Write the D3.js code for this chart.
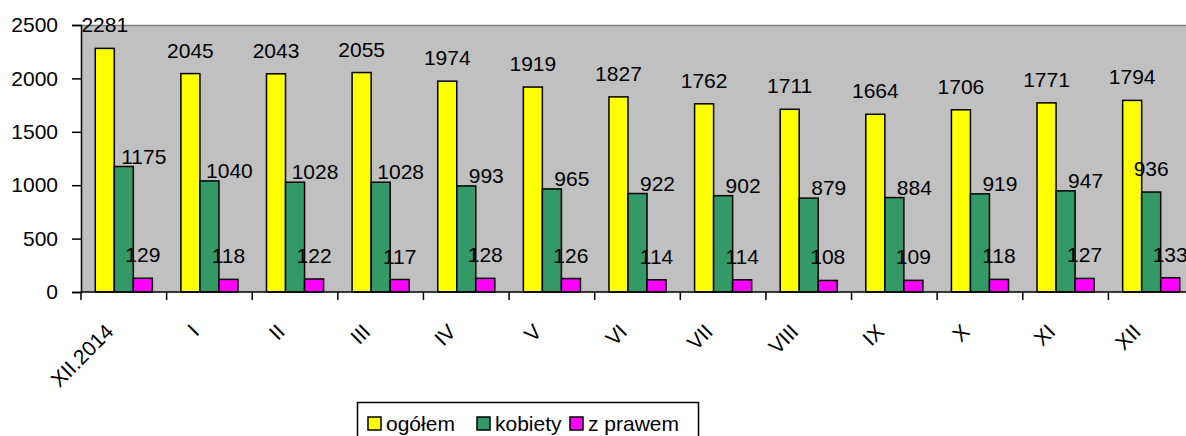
<!DOCTYPE html>
<html>
<head>
<meta charset="utf-8">
<script src="https://cdn.jsdelivr.net/npm/d3@7"></script>
<style>
  body { margin: 0; background: #fff; }
  svg { display: block; font-family: "Liberation Sans", Arial, sans-serif; }
</style>
</head>
<body>
<svg width="1186" height="436"></svg>
<script>
// data
const months = ["XII.2014", "I", "II", "III", "IV", "V", "VI", "VII", "VIII", "IX", "X", "XI", "XII"];
const ogolem = [2281, 2045, 2043, 2055, 1974, 1919, 1827, 1762, 1711, 1664, 1706, 1771, 1794];
const kobiety = [1175, 1040, 1028, 1028, 993, 965, 922, 902, 879, 884, 919, 947, 936];
const zPrawem = [129, 118, 122, 117, 128, 126, 114, 114, 108, 109, 118, 127, 133];
const seriesNames = ["ogółem", "kobiety", "z prawem"];
const yTicks = [0, 500, 1000, 1500, 2000, 2500];

const colors = ["#ffff00", "#339966", "#ff00ff"];
const seriesValues = [ogolem, kobiety, zPrawem];

const svg = d3.select("svg");
const width = 1186;
const plotLeft = 81, plotRight = 1194, plotTop = 25, plotBottom = 292;
const fontSize = 21;

// scales
const x = d3.scaleBand()
    .domain(months)
    .range([plotLeft, plotRight]);

const x1 = d3.scaleBand()
    .domain(seriesNames)
    .range([0, x.bandwidth()])
    .paddingInner(0)
    .paddingOuter(0.75);

const y = d3.scaleLinear()
    .domain([0, 2500])
    .range([plotBottom, plotTop]);

const color = d3.scaleOrdinal().domain(seriesNames).range(colors);

// plot background
svg.append("rect")
    .attr("x", plotLeft)
    .attr("y", plotTop)
    .attr("width", plotRight - plotLeft)
    .attr("height", plotBottom - plotTop)
    .attr("fill", "#c0c0c0");

svg.append("line")
    .attr("x1", plotLeft).attr("x2", plotRight)
    .attr("y1", plotTop + 0.5).attr("y2", plotTop + 0.5)
    .attr("stroke", "#808080")
    .attr("stroke-width", 1.5);

// table of rows
const rows = months.map((m, i) => ({
  month: m,
  values: seriesNames.map((s, j) => ({ key: s, value: seriesValues[j][i] }))
}));

// bars
const groups = svg.append("g")
  .selectAll("g")
  .data(rows)
  .enter().append("g")
    .attr("transform", d => `translate(${x(d.month)},0)`);

groups.selectAll("rect")
  .data(d => d.values)
  .enter().append("rect")
    .attr("x", d => x1(d.key))
    .attr("y", d => y(d.value))
    .attr("width", x1.bandwidth())
    .attr("height", d => y(0) - y(d.value))
    .attr("fill", d => color(d.key))
    .attr("stroke", "#000")
    .attr("stroke-width", 1.5);

// value labels: green ones sit beside the bar top unless that runs off the page
const labelPos = function (d) {
  const gx = x(d3.select(this.parentNode).datum().month);
  const cx = x1(d.key) + x1.bandwidth() / 2;
  const half = String(d.value).length * fontSize * 0.28;
  if (d.key === "kobiety" && gx + cx + 20 + half < width) {
    return { x: cx + 20, y: y(d.value) - 3 };
  }
  return { x: cx, y: y(d.value) - 16 };
};

groups.selectAll("text")
  .data(d => d.values)
  .enter().append("text")
    .each(function (d) {
      const p = labelPos.call(this, d);
      d3.select(this).attr("x", p.x).attr("y", p.y);
    })
    .attr("text-anchor", "middle")
    .attr("font-size", fontSize)
    .attr("fill", "#000")
    .text(d => d.value);

// y axis
svg.append("g")
    .attr("transform", `translate(${plotLeft},0)`)
    .call(d3.axisLeft(y).tickValues(yTicks).tickSize(9).tickPadding(14).tickFormat(d3.format("d")))
    .call(g => g.select(".domain").attr("stroke", "#000").attr("stroke-width", 1.5))
    .call(g => g.selectAll(".tick line").attr("stroke", "#000").attr("stroke-width", 1.5))
    .call(g => g.selectAll(".tick text")
        .attr("font-size", fontSize)
        .attr("font-family", "Liberation Sans, Arial, sans-serif")
        .attr("fill", "#000"));

// x axis line and ticks at category borders
const xAxis = svg.append("g");
xAxis.append("line")
    .attr("x1", plotLeft).attr("x2", plotRight)
    .attr("y1", plotBottom).attr("y2", plotBottom)
    .attr("stroke", "#000")
    .attr("stroke-width", 1.5);

xAxis.selectAll(".xtick")
  .data(months)
  .enter().append("line")
    .attr("class", "xtick")
    .attr("x1", d => x(d)).attr("x2", d => x(d))
    .attr("y1", plotBottom).attr("y2", plotBottom + 8)
    .attr("stroke", "#000")
    .attr("stroke-width", 1.5);

xAxis.selectAll(".xlabel")
  .data(months)
  .enter().append("text")
    .attr("class", "xlabel")
    .attr("transform", d => `translate(${x(d) + x.bandwidth() / 2 - 9},${plotBottom + 41}) rotate(-45)`)
    .attr("text-anchor", "end")
    .attr("font-size", fontSize)
    .attr("fill", "#000")
    .text(d => d);

// legend
const legend = svg.append("g").attr("transform", "translate(357,402)");
legend.append("rect")
    .attr("x", 0.5).attr("y", 0.5)
    .attr("width", 341).attr("height", 44)
    .attr("fill", "#fff")
    .attr("stroke", "#000")
    .attr("stroke-width", 1.5);

const legendX = [11, 120, 213];
const items = legend.selectAll(".item")
  .data(seriesNames)
  .enter().append("g")
    .attr("class", "item")
    .attr("transform", (d, i) => `translate(${legendX[i]},15)`);

items.append("rect")
    .attr("width", 13).attr("height", 13)
    .attr("fill", d => color(d))
    .attr("stroke", "#000")
    .attr("stroke-width", 1.5);

items.append("text")
    .attr("x", 18)
    .attr("y", 14)
    .attr("font-size", fontSize)
    .attr("fill", "#000")
    .text(d => d);
</script>
</body>
</html>
